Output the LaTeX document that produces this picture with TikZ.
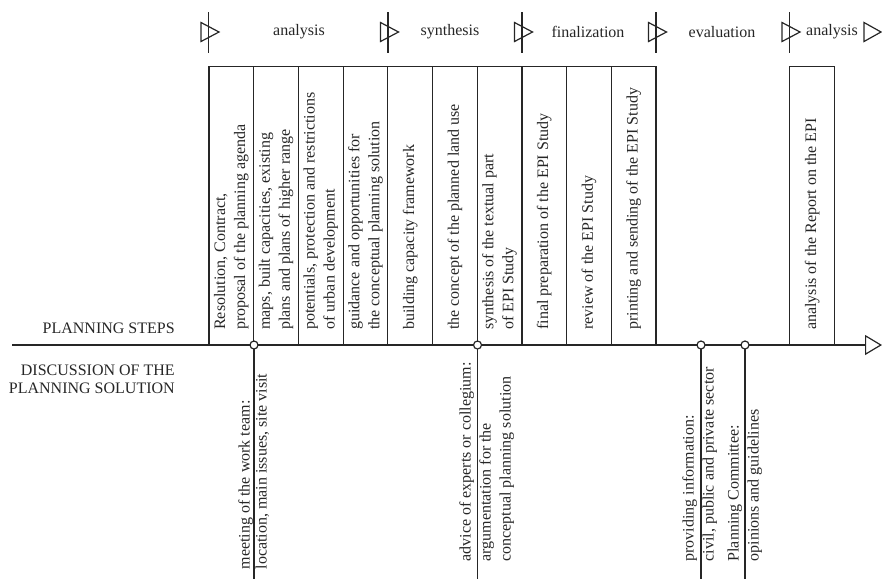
\documentclass[tikz,border=0pt]{standalone}
\usepackage{fontspec}
\setmainfont{Liberation Serif}
\usetikzlibrary{arrows.meta}
\begin{document}
\begin{tikzpicture}
      [x=0.5pt, y=-0.5pt, color=black!85, line width=0.6pt,
      every node/.style={font=\fontsize{8}{10}\selectfont},
      stepbox/.style={draw, rotate=90, minimum width=139.25pt, minimum height=22.35pt,
        text width=124pt, inner xsep=7.6pt, inner ysep=1pt, align=flush left},
      talk/.style={rotate=90, anchor=base west, align=flush left, inner sep=0pt},
      meet/.style={circle, draw, fill=white, inner sep=0pt, minimum size=4pt},
      ]
      \useasboundingbox (0,0) rectangle (882,579);
      % phases
      \foreach \x in {208.5,388,522,656,789.5}
        {\draw (\x,12) -- (\x,53);
         \draw (\x-7.5,22.5) -- (\x+10.5,32) -- (\x-7.5,41.5) -- cycle;}
      \draw (864,22.5) -- (881,32) -- (864,41.5) -- cycle;
      \node (p1) at (299,32) {analysis};
      \node (p2) at (450,32) {synthesis};
      \node (p3) at (588,32) {finalization};
      \node (p4) at (722,32) {evaluation};
      \node (p5) at (832,32) {analysis};
      % planning steps
      \foreach \txt [count=\i] in {{Resolution, Contract,\\proposal of the planning agenda},
          {maps, built capacities, existing\\plans and plans of higher range},
          {potentials, protection and restrictions\\of urban development},
          {guidance and opportunities for\\the conceptual planning solution},
          {building capacity framework},
          {the concept of the planned land use},
          {synthesis of the textual part\\of EPI Study},
          {final preparation of the EPI Study},
          {review of the EPI Study},
          {printing and sending of the EPI Study}}
        \node[stepbox] (s\i) at ({209+44.7*(\i-0.5)},205.75) {\txt};
      \node[stepbox] (s11) at (812.15,205.75) {analysis of the Report on the EPI};
      % time axis
      \coordinate (a0) at (12,345);
      \coordinate (a1) at (882,345);
      \draw[-{Triangle[open, length=8.5pt, width=10pt]}] (a0) -- (a1);
      \node[anchor=base east] (steps) at (182,333) {PLANNING STEPS};
      \node[anchor=base east, align=right] (disc) at (182,393)
        {DISCUSSION OF THE\\[-1pt]PLANNING SOLUTION};
      % discussions
      \coordinate (e1) at (254,579);
      \coordinate (e2) at (477.5,579);
      \coordinate (e3) at (701,579);
      \coordinate (e4) at (745,579);
      \draw (254,345) -- (e1);
      \draw (477.5,345) -- (e2);
      \draw (701,345) -- (e3);
      \draw (745,345) -- (e4);
      \node[meet] (m1) at (254,345) {};
      \node[meet] (m2) at (477.5,345) {};
      \node[meet] (m3) at (701,345) {};
      \node[meet] (m4) at (745,345) {};
      \node[talk] (t1) at (266.5,570) {meeting of the work team:\\[-1.5pt]location, main issues, site visit};
      \node[talk] (t2) at (510.5,562) {advice of experts or collegium:\\argumentation for the\\conceptual planning solution};
      \node[talk] (t3) at (713.5,562) {providing information:\\civil, public and private sector};
      \node[talk] (t4) at (758.5,562) {Planning Committee:\\opinions and guidelines};
\end{tikzpicture}
\end{document}
